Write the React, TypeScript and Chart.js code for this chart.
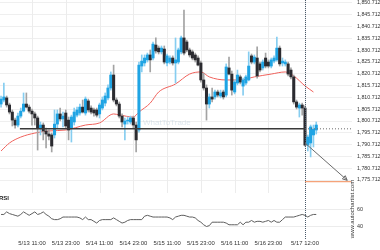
import React, { useEffect, useRef } from "react";
import { Chart, registerables } from "chart.js";

Chart.register(...registerables);

const FONT = "'Liberation Sans', Arial, sans-serif";

// Hourly candles, index 0 = 5/13 00:00
const opens = [
  1807.9, 1809.6, 1810.5, 1807.5, 1804.5, 1801.1, 1799.0, 1802.8, 1804.9, 1807.9,
  1806.6, 1804.9, 1803.7, 1802.0, 1797.7, 1799.0, 1796.5, 1795.2, 1794.8, 1794.8,
  1799.4, 1803.7, 1801.6, 1804.1, 1801.1, 1797.7, 1800.3, 1803.2, 1804.1, 1806.6,
  1804.1, 1809.2, 1806.2, 1805.4, 1805.4, 1803.7, 1806.2, 1808.3, 1810.5, 1814.7,
  1820.2, 1809.6, 1807.9, 1802.8, 1799.4, 1800.7, 1800.3, 1802.0, 1799.0, 1796.9,
  1824.0, 1825.3, 1826.6, 1828.7, 1827.4, 1832.9, 1831.6, 1830.0, 1831.2, 1825.3,
  1825.7, 1827.4, 1825.3, 1825.7, 1830.0, 1835.9, 1834.2, 1830.8, 1830.0, 1828.7,
  1827.4, 1825.3, 1818.1, 1814.7, 1807.9, 1810.9, 1810.9, 1813.0, 1811.3, 1813.0,
  1811.7, 1823.2, 1820.6, 1813.0, 1816.8, 1819.4, 1815.5, 1816.8, 1818.1, 1828.3,
  1825.7, 1827.4, 1824.9, 1823.2, 1827.4, 1825.7, 1824.0, 1826.1, 1826.6, 1831.6,
  1825.3, 1824.9, 1824.9, 1822.3, 1819.4, 1808.8, 1806.2, 1807.5, 1806.2, 1790.5,
  1791.4, 1794.8, 1796.9,
];
const closes = [
  1810.0, 1810.9, 1807.5, 1804.5, 1801.1, 1799.0, 1802.8, 1804.9, 1807.9, 1806.6,
  1804.9, 1803.7, 1802.0, 1797.7, 1799.0, 1796.5, 1795.2, 1794.3, 1790.1, 1799.4,
  1803.7, 1801.6, 1802.8, 1798.6, 1796.9, 1802.4, 1804.5, 1805.4, 1806.6, 1804.5,
  1810.0, 1805.4, 1804.5, 1804.1, 1803.2, 1807.5, 1809.6, 1811.3, 1814.7, 1820.2,
  1809.6, 1807.9, 1802.8, 1800.3, 1800.7, 1801.1, 1802.0, 1799.0, 1792.7, 1824.4,
  1826.1, 1827.4, 1828.7, 1826.6, 1833.3, 1830.4, 1830.0, 1831.6, 1825.7, 1828.3,
  1827.4, 1825.3, 1826.6, 1830.8, 1835.9, 1829.5, 1830.8, 1828.7, 1827.4, 1826.6,
  1824.4, 1818.1, 1814.7, 1807.9, 1810.9, 1810.0, 1813.0, 1811.7, 1812.6, 1810.9,
  1823.6, 1820.6, 1813.8, 1817.2, 1820.2, 1817.2, 1818.1, 1819.4, 1824.0, 1825.7,
  1827.8, 1819.8, 1822.3, 1825.7, 1824.0, 1824.0, 1826.6, 1827.4, 1831.6, 1824.9,
  1826.1, 1825.7, 1820.6, 1819.4, 1808.8, 1806.6, 1807.5, 1806.2, 1790.5, 1793.9,
  1798.2, 1797.3, 1799.0,
];
const highs = [
  1811.3, 1816.8, 1811.3, 1808.3, 1805.4, 1802.0, 1804.1, 1806.2, 1812.6, 1812.6,
  1807.5, 1805.8, 1804.5, 1802.8, 1800.3, 1799.9, 1797.7, 1796.9, 1795.6, 1805.4,
  1805.4, 1806.2, 1804.5, 1805.4, 1802.4, 1803.2, 1806.2, 1806.6, 1807.9, 1809.6,
  1810.9, 1810.0, 1807.1, 1806.2, 1806.2, 1808.3, 1810.9, 1812.6, 1816.0, 1821.5,
  1824.4, 1810.5, 1808.8, 1803.7, 1802.0, 1802.4, 1802.8, 1802.8, 1800.3, 1825.7,
  1828.7, 1828.7, 1829.5, 1830.8, 1834.2, 1835.9, 1832.5, 1832.5, 1832.5, 1829.1,
  1828.3, 1828.3, 1835.9, 1831.6, 1836.7, 1847.7, 1835.0, 1831.6, 1830.8, 1829.5,
  1828.3, 1826.1, 1821.0, 1816.0, 1812.2, 1814.7, 1813.8, 1813.8, 1813.8, 1813.8,
  1824.9, 1827.8, 1821.9, 1818.1, 1822.3, 1820.2, 1818.9, 1820.2, 1830.0, 1829.1,
  1828.7, 1832.1, 1825.7, 1826.6, 1829.5, 1826.6, 1827.4, 1828.3, 1836.3, 1832.5,
  1827.4, 1826.6, 1825.7, 1823.2, 1820.2, 1809.6, 1808.3, 1808.3, 1807.1, 1794.8,
  1799.0, 1799.0, 1800.3,
];
const lows = [
  1806.6, 1808.8, 1806.6, 1803.7, 1798.6, 1797.7, 1798.2, 1802.0, 1804.5, 1806.2,
  1804.1, 1799.0, 1799.0, 1788.4, 1794.8, 1792.7, 1789.3, 1792.7, 1787.6, 1793.5,
  1797.7, 1800.7, 1798.2, 1797.7, 1792.7, 1791.8, 1799.0, 1802.4, 1803.2, 1804.1,
  1803.2, 1804.5, 1803.7, 1802.8, 1802.4, 1802.0, 1805.4, 1807.1, 1809.6, 1813.8,
  1808.8, 1807.1, 1802.0, 1798.2, 1792.7, 1799.4, 1799.4, 1797.7, 1787.6, 1796.0,
  1821.5, 1824.0, 1825.7, 1821.5, 1826.6, 1829.5, 1829.1, 1829.1, 1824.9, 1824.0,
  1824.9, 1824.4, 1816.8, 1824.9, 1829.1, 1828.7, 1830.0, 1827.8, 1826.6, 1825.7,
  1824.0, 1817.2, 1813.8, 1801.1, 1806.2, 1808.8, 1810.0, 1810.9, 1810.5, 1810.0,
  1810.9, 1820.2, 1811.7, 1812.2, 1816.0, 1816.4, 1811.7, 1816.0, 1817.7, 1824.9,
  1824.9, 1818.9, 1821.5, 1822.3, 1823.2, 1823.2, 1823.2, 1825.3, 1826.1, 1824.0,
  1824.0, 1824.0, 1819.8, 1818.5, 1807.9, 1805.8, 1802.4, 1803.2, 1790.1, 1788.0,
  1785.5, 1789.7, 1795.2,
];

// Moving average (read at selected candles)
const maIndex = [0, 3, 7, 12, 17, 23, 30, 35, 40, 42, 47, 49, 53, 56, 62, 67, 71, 74, 80, 85, 90, 96, 101, 104, 108, 111];
const maValues = [
  1788.0, 1791.4, 1793.9, 1795.6, 1796.5, 1796.9, 1799.0, 1799.9, 1803.7, 1803.3,
  1802.4, 1804.5, 1808.3, 1813.0, 1816.4, 1820.6, 1821.5, 1819.4, 1818.1, 1818.1,
  1819.4, 1820.6, 1821.5, 1819.8, 1815.6, 1813.0,
];

// RSI per candle
const rsiValues = [
  54, 54, 57, 55, 54, 53, 52, 54, 57, 55,
  53, 55, 57, 54, 55, 57, 54, 52, 49, 48,
  48, 49, 51, 51, 51, 51, 51, 51, 50, 48,
  51, 48, 48, 46, 44, 47, 48, 48, 48, 48,
  50, 48, 46, 44, 45, 47, 48, 48, 48, 48,
  48, 52, 53, 52, 51, 51, 51, 51, 51, 51,
  50, 48, 51, 52, 53, 53, 52, 51, 51, 50,
  47, 45, 42, 40, 41, 45, 45, 45, 45, 45,
  44, 42, 42, 42, 42, 45, 42, 45, 45, 47,
  45, 46, 46, 45, 46, 47, 45, 47, 45, 45,
  48, 51, 51, 51, 51, 52, 53, 54, 53, 51,
  53, 54, 54,
];

const xTickHours = [11, 23, 35, 47, 59, 71, 83, 95, 108];
const xTickLabels = [
  "5/13 11:00", "5/13 23:00", "5/14 11:00", "5/14 23:00", "5/15 11:00",
  "5/15 23:00", "5/16 11:00", "5/16 23:00", "5/17 12:00",
];
const priceTicks = [
  1775.712, 1780.712, 1785.712, 1790.712, 1795.712, 1800.712, 1805.712, 1810.712,
  1815.712, 1820.712, 1825.712, 1830.712, 1835.712, 1840.712, 1845.712, 1850.712,
];
const rsiTicks = [40, 60];

const supportLevel = 1797.4;
const supportStart = 6.7;
const breakoutIndex = 108;
const targetLevel = 1775.0;
const arrowStart = { x: 108, y: 1791.4 };
const arrowEnd = { x: 123, y: 1775.6 };

const BULL = "#1fa4e4";
const BULL_WICK = "#86cdf0";
const BEAR = "#2b2b30";
const BEAR_WICK = "#a3a3a3";

export default function App() {
  const ref = useRef<HTMLCanvasElement>(null);

  useEffect(() => {
    document.body.style.margin = "0";
    const canvas = ref.current;
    if (!canvas) return;
    const idx = closes.map((_, i) => i);
    const isUp = (i: number) => closes[i] >= opens[i];

    const overlay = {
      id: "overlay",
      beforeDatasetsDraw(chart: any) {
        const ctx = chart.ctx;
        const xs = chart.scales.x;
        const yr = chart.scales.yR;
        const area = chart.chartArea;
        ctx.save();
        ctx.strokeStyle = "#ececec";
        ctx.lineWidth = 1;
        for (const h of xTickHours) {
          const px = Math.round(xs.getPixelForValue(h)) + 0.5;
          ctx.beginPath();
          ctx.moveTo(px, area.top);
          ctx.lineTo(px, 193);
          ctx.stroke();
        }
        for (const r of rsiTicks) {
          const py = Math.round(yr.getPixelForValue(r)) + 0.5;
          ctx.beginPath();
          ctx.moveTo(area.left, py);
          ctx.lineTo(area.right, py);
          ctx.stroke();
        }
        // faint watermark
        ctx.fillStyle = "rgba(160,185,205,0.35)";
        ctx.font = `8px ${FONT}`;
        ctx.textBaseline = "middle";
        ctx.fillText("WhatToTrade", 143, 123);
        ctx.restore();
      },
      afterDatasetsDraw(chart: any) {
        const ctx = chart.ctx;
        const xs = chart.scales.x;
        const ys = chart.scales.y;
        const yr = chart.scales.yR;
        const area = chart.chartArea;
        ctx.save();
        // support line
        const sy = ys.getPixelForValue(supportLevel);
        const bx = xs.getPixelForValue(breakoutIndex);
        ctx.strokeStyle = "#3a3a3a";
        ctx.lineWidth = 1.6;
        ctx.beginPath();
        ctx.moveTo(xs.getPixelForValue(supportStart), sy);
        ctx.lineTo(bx, sy);
        ctx.stroke();
        // dotted continuation
        ctx.strokeStyle = "#6a6a6a";
        ctx.lineWidth = 1;
        ctx.setLineDash([1, 2]);
        ctx.beginPath();
        ctx.moveTo(bx, sy);
        ctx.lineTo(area.right, sy);
        ctx.stroke();
        // vertical breakout line
        ctx.strokeStyle = "#4a5a6a";
        ctx.setLineDash([1, 1]);
        ctx.beginPath();
        ctx.moveTo(Math.round(bx) + 0.5, 0);
        ctx.lineTo(Math.round(bx) + 0.5, 240);
        ctx.stroke();
        ctx.setLineDash([]);
        // target line
        const ty = ys.getPixelForValue(targetLevel);
        ctx.strokeStyle = "#f5a37a";
        ctx.lineWidth = 1.3;
        ctx.beginPath();
        ctx.moveTo(bx, ty);
        ctx.lineTo(area.right - 1, ty);
        ctx.stroke();
        // arrow
        const ax0 = xs.getPixelForValue(arrowStart.x);
        const ay0 = ys.getPixelForValue(arrowStart.y);
        const ax1 = xs.getPixelForValue(arrowEnd.x);
        const ay1 = ys.getPixelForValue(arrowEnd.y);
        ctx.strokeStyle = "#6b6b6b";
        ctx.lineWidth = 1;
        ctx.beginPath();
        ctx.moveTo(ax0, ay0);
        ctx.lineTo(ax1, ay1);
        ctx.stroke();
        const ang = Math.atan2(ay1 - ay0, ax1 - ax0);
        const hl = 5;
        ctx.beginPath();
        ctx.moveTo(ax1 - hl * Math.cos(ang - 0.45), ay1 - hl * Math.sin(ang - 0.45));
        ctx.lineTo(ax1, ay1);
        ctx.lineTo(ax1 - hl * Math.cos(ang + 0.45), ay1 - hl * Math.sin(ang + 0.45));
        ctx.closePath();
        ctx.stroke();
        // texts
        ctx.fillStyle = "#222";
        ctx.font = `bold 6px ${FONT}`;
        ctx.textBaseline = "middle";
        ctx.textAlign = "left";
        ctx.fillText("RSI", -1, 198);
        ctx.fillStyle = "#333";
        ctx.font = `5.4px ${FONT}`;
        for (const r of rsiTicks) {
          ctx.fillText(String(r), area.right + 5, yr.getPixelForValue(r));
        }
        ctx.save();
        ctx.translate(352, 209);
        ctx.rotate(-Math.PI / 2);
        ctx.textAlign = "center";
        ctx.font = `6px ${FONT}`;
        ctx.fillStyle = "#333";
        ctx.fillText("www.autochartist.com", 0, 0);
        ctx.restore();
        ctx.restore();
      },
    };

    const chart = new Chart(canvas, {
      type: "bar",
      data: {
        datasets: [
          {
            type: "line",
            data: maIndex.map((x, k) => ({ x, y: maValues[k] })),
            borderColor: "#f0625c",
            borderWidth: 1,
            pointRadius: 0,
            cubicInterpolationMode: "monotone",
            yAxisID: "y",
            order: 5,
          } as any,
          {
            type: "bar",
            data: idx.map((i) => ({ x: i, y: [lows[i], highs[i]] })),
            backgroundColor: idx.map((i) => (isUp(i) ? BULL_WICK : BEAR_WICK)),
            barThickness: 1,
            grouped: false,
            yAxisID: "y",
            order: 4,
          } as any,
          {
            type: "bar",
            data: idx.map((i) => ({ x: i, y: [opens[i], closes[i]] })),
            backgroundColor: idx.map((i) => (isUp(i) ? BULL : BEAR)),
            barThickness: 2.4,
            minBarLength: 1,
            grouped: false,
            yAxisID: "y",
            order: 3,
          } as any,
          {
            type: "line",
            data: rsiValues.map((v, i) => ({ x: i, y: v })),
            borderColor: "#5e5e5e",
            borderWidth: 1,
            pointRadius: 0,
            yAxisID: "yR",
            order: 1,
          } as any,
        ],
      },
      options: {
        animation: false,
        responsive: false,
        events: [],
        layout: { padding: 0 },
        plugins: { legend: { display: false }, tooltip: { enabled: false } },
        scales: {
          x: {
            type: "linear",
            min: -0.37,
            max: 124.7,
            offset: false,
            grid: { display: false, drawTicks: false },
            border: { display: false },
            afterBuildTicks: (s: any) => {
              s.ticks = xTickHours.map((v) => ({ value: v }));
            },
            afterFit: (s: any) => {
              s.height = 14;
              s.paddingLeft = 0;
              s.paddingRight = 0;
            },
            ticks: {
              autoSkip: false,
              maxRotation: 0,
              padding: 4,
              color: "#333",
              font: { size: 5.9, family: FONT },
              callback: (_v: any, i: number) => xTickLabels[i],
            },
          },
          y: {
            position: "right",
            min: 1751.99,
            max: 1851.98,
            grid: { color: "#efefef", drawTicks: false },
            border: { display: false },
            afterBuildTicks: (s: any) => {
              s.ticks = priceTicks.map((v) => ({ value: v }));
            },
            afterFit: (s: any) => {
              s.width = 28;
              s.paddingTop = 0;
              s.paddingBottom = 0;
            },
            ticks: {
              autoSkip: false,
              padding: 5,
              color: "#333",
              font: { size: 5.3, family: FONT },
              callback: (v: any) =>
                Number(v).toLocaleString("en-US", { minimumFractionDigits: 3, maximumFractionDigits: 3 }),
            },
          },
          yR: {
            display: false,
            min: 28.95,
            max: 303.4,
          },
        },
      } as any,
      plugins: [overlay],
    });
    return () => chart.destroy();
  }, []);

  return (
    <div style={{ width: 380, height: 250 }}>
      <canvas ref={ref} width={380} height={250} style={{ display: "block" }} />
    </div>
  );
}
